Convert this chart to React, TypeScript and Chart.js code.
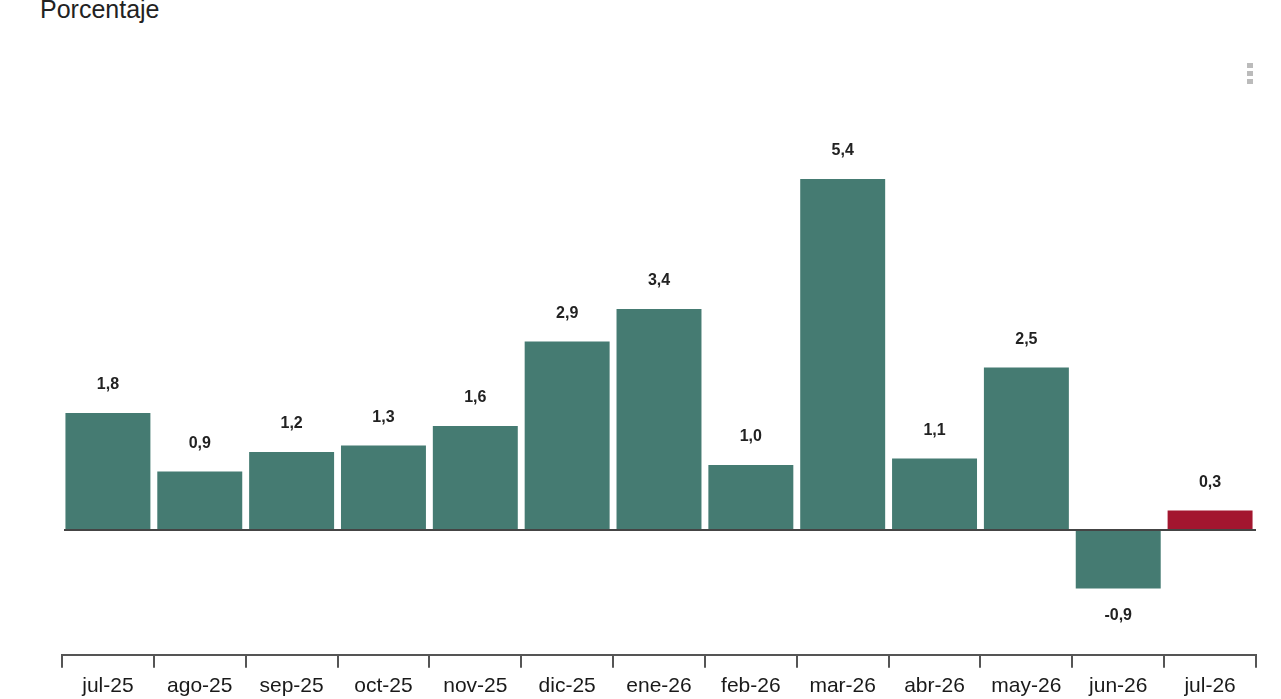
import React, { useEffect, useRef } from "react";
import { Chart, registerables } from "chart.js";

Chart.register(...registerables);

const categories = ["jul-25", "ago-25", "sep-25", "oct-25", "nov-25", "dic-25", "ene-26", "feb-26", "mar-26", "abr-26", "may-26", "jun-26", "jul-26"];
const values = [1.8, 0.9, 1.2, 1.3, 1.6, 2.9, 3.4, 1.0, 5.4, 1.1, 2.5, -0.9, 0.3];
const highlightIndex = 12;
const titleText = "Porcentaje";

const TEAL = "#457b72";
const RED = "#a3162f";

const fmt = (v: number) => v.toFixed(1).replace(".", ",");

const zeroLinePlugin = {
  id: "zeroLine",
  afterDatasetsDraw(chart: any) {
    const { ctx, chartArea, scales } = chart;
    const y = scales.y.getPixelForValue(0);
    ctx.save();
    ctx.strokeStyle = "#444";
    ctx.lineWidth = 2;
    ctx.beginPath();
    ctx.moveTo(chartArea.left + 2, y);
    ctx.lineTo(chartArea.right, y);
    ctx.stroke();
    ctx.restore();
  },
};

const valueLabelPlugin = {
  id: "valueLabels",
  afterDatasetsDraw(chart: any) {
    const { ctx } = chart;
    const meta = chart.getDatasetMeta(0);
    ctx.save();
    ctx.font = "bold 16px 'Liberation Sans', Arial, sans-serif";
    ctx.fillStyle = "#222";
    ctx.textAlign = "center";
    ctx.textBaseline = "middle";
    meta.data.forEach((bar: any, i: number) => {
      const v = values[i];
      const y = v >= 0 ? bar.y - 28 : bar.y + 27;
      ctx.fillText(fmt(v), bar.x, y);
    });
    ctx.restore();
  },
};

export default function App() {
  const ref = useRef<HTMLCanvasElement>(null);
  useEffect(() => {
    if (!ref.current) return;
    const chart = new Chart(ref.current, {
      type: "bar",
      data: {
        labels: categories,
        datasets: [
          {
            data: values,
            backgroundColor: values.map((_, i) => (i === highlightIndex ? RED : TEAL)),
            borderWidth: 0,
            categoryPercentage: 1,
            barPercentage: 0.925,
          },
        ],
      },
      options: {
        animation: false,
        responsive: false,
        maintainAspectRatio: false,
        layout: { padding: { left: 62, right: 25, top: 140, bottom: 0 } },
        plugins: { legend: { display: false }, tooltip: { enabled: false } },
        scales: {
          x: {
            offset: true,
            grid: {
              offset: true,
              drawOnChartArea: false,
              drawTicks: true,
              tickLength: 13,
              color: "#555",
              lineWidth: 2,
            },
            border: { display: true, color: "#555", width: 2 },
            ticks: {
              color: "#1a1a1a",
              padding: 6,
              font: { family: "'Liberation Sans', Arial, sans-serif", size: 21 },
              maxRotation: 0,
              autoSkip: false,
            },
          },
          y: {
            display: false,
            min: -1.92,
            max: 6.0,
          },
        },
      },
      plugins: [zeroLinePlugin, valueLabelPlugin],
    });
    return () => chart.destroy();
  }, []);

  return (
    <div style={{ position: "absolute", left: 0, top: 0, width: 1281, height: 699, overflow: "hidden", background: "#fff" }}>
      <div
        style={{
          position: "absolute",
          left: 40,
          top: -5,
          fontFamily: "'Liberation Sans', Arial, sans-serif",
          fontSize: 25,
          color: "#222",
          whiteSpace: "nowrap",
        }}
      >
        {titleText}
      </div>
      <div style={{ position: "absolute", left: 1247, top: 63, width: 6, display: "flex", flexDirection: "column", gap: 3 }}>
        <div style={{ width: 6, height: 5, background: "#bbb" }} />
        <div style={{ width: 6, height: 5, background: "#bbb" }} />
        <div style={{ width: 6, height: 5, background: "#bbb" }} />
      </div>
      <canvas ref={ref} width={1281} height={705} style={{ position: "absolute", left: 0, top: 0, width: 1281, height: 705 }} />
    </div>
  );
}
